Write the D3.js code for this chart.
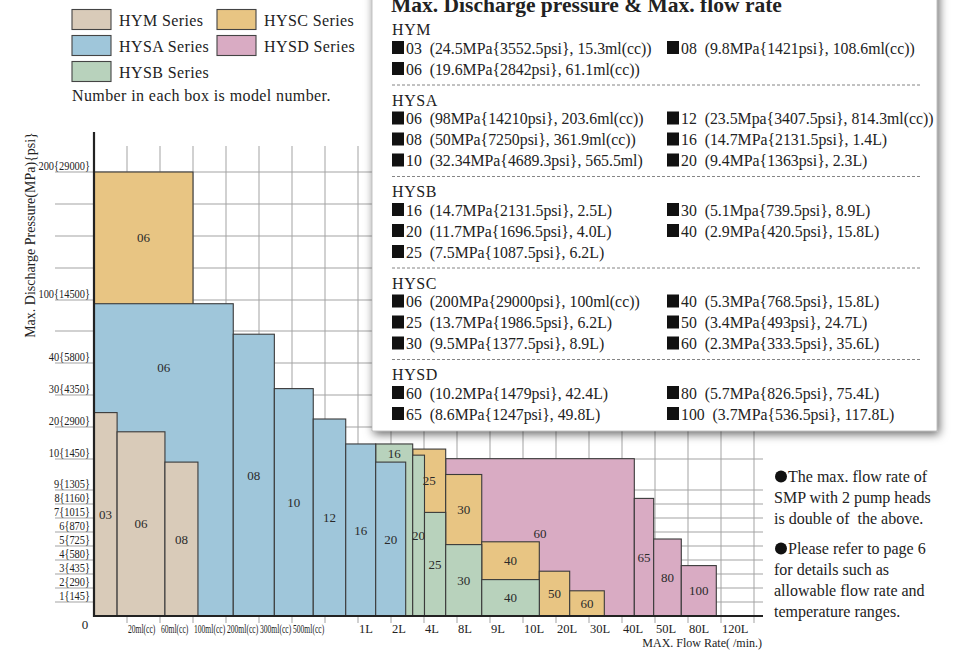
<!DOCTYPE html>
<html><head><meta charset="utf-8">
<script src="https://cdn.jsdelivr.net/npm/d3@7"></script>
<style>
html,body{margin:0;padding:0;background:#fff;}
svg{display:block;font-family:"Liberation Serif","Times New Roman",serif;}
</style></head><body>
<svg id="chart" width="964" height="652"></svg>
<script>
// ---------------- DATA ----------------
const flowTickValues = [0,20,60,100,200,300,500,750,1000,2000,4000,8000,9000,10000,20000,30000,40000,50000,80000,120000,160000];
const flowTickLabels = ["","20ml(cc)","60ml(cc)","100ml(cc)","200ml(cc)","300ml(cc)","500ml(cc)","","1L","2L","4L","8L","9L","10L","20L","30L","40L","50L","80L","120L",""];
const pressureTickValues = [1,2,3,4,5,6,7,8,9,10,20,30,40,50,100,125,150,175,200];
const pressureTickLabels = ["1{145}","2{290}","3{435}","4{580}","5{725}","6{870}","7{1015}","8{1160}","9{1305}","10{1450}","20{2900}","30{4350}","40{5800}","","100{14500}","","","","200{29000}"];

const seriesNames = ["HYM","HYSA","HYSB","HYSC","HYSD"];
const seriesColors = ["#d9cbb9","#9fc6da","#b8d2bc","#e8c583","#d9abc3"];

// flow in ml, pressure in MPa (as drawn)
const hymModels   = ["03","06","08"];
const hymFlowFrom = [0,14,66];
const hymFlowTo   = [14,66,115];
const hymPressure = [24.5,18.5,9.9];

const hysaModels   = ["06","08","10","12","16","20"];
const hysaFlowFrom = [0,222,393,661,907,1536];
const hysaFlowTo   = [222,393,661,907,1536,2890];
const hysaPressure = [94,49,32,22.5,14.7,9.9];

const hysbModels   = ["16","20","25","30","40"];
const hysbFlowFrom = [1536,3315,4060,6630,8750];
const hysbFlowTo   = [3315,4060,6630,8750,14940];
const hysbPressure = [14.7,11.2,7.4,5.1,2.6];

const hyscModels   = ["06","25","30","40","50","60"];
const hyscFlowFrom = [0,3315,6630,8750,14940,24150];
const hyscFlowTo   = [100,6630,8750,14940,24150,34640];
const hyscPressure = [200,13.1,9.5,5.3,3.2,1.8];

const hysdModels   = ["60","65","80","100"];
const hysdFlowFrom = [6630,43730,49600,73900];
const hysdFlowTo   = [43730,49600,73900,114300];
const hysdPressure = [10.1,8.4,5.5,3.6];

const specHYM  = ["03  (24.5MPa{3552.5psi}, 15.3ml(cc))","06  (19.6MPa{2842psi}, 61.1ml(cc))","08  (9.8MPa{1421psi}, 108.6ml(cc))"];
const specHYSA = ["06  (98MPa{14210psi}, 203.6ml(cc))","08  (50MPa{7250psi}, 361.9ml(cc))","10  (32.34MPa{4689.3psi}, 565.5ml)","12  (23.5Mpa{3407.5psi}, 814.3ml(cc))","16  (14.7MPa{2131.5psi}, 1.4L)","20  (9.4MPa{1363psi}, 2.3L)"];
const specHYSB = ["16  (14.7MPa{2131.5psi}, 2.5L)","20  (11.7MPa{1696.5psi}, 4.0L)","25  (7.5MPa{1087.5psi}, 6.2L)","30  (5.1Mpa{739.5psi}, 8.9L)","40  (2.9MPa{420.5psi}, 15.8L)"];
const specHYSC = ["06  (200MPa{29000psi}, 100ml(cc))","25  (13.7MPa{1986.5psi}, 6.2L)","30  (9.5MPa{1377.5psi}, 8.9L)","40  (5.3MPa{768.5psi}, 15.8L)","50  (3.4MPa{493psi}, 24.7L)","60  (2.3MPa{333.5psi}, 35.6L)"];
const specHYSD = ["60  (10.2MPa{1479psi}, 42.4L)","65  (8.6MPa{1247psi}, 49.8L)","80  (5.7MPa{826.5psi}, 75.4L)","100  (3.7MPa{536.5psi}, 117.8L)"];

const titleText = "Max. Discharge pressure & Max. flow rate";
const yAxisTitle = "Max. Discharge Pressure(MPa){psi}";
const xAxisTitle = "MAX. Flow Rate( /min.)";
const legendNote = "Number in each box is model number.";
const notes = [["The max. flow rate of","SMP with 2 pump heads","is double of  the above."],
               ["Please refer to page 6","for details such as","allowable flow rate and","temperature ranges."]];

// ---------------- LAYOUT ----------------
const svg = d3.select("#chart");
const X0 = 94, STEP = 33, AXIS_Y = 616;
const x = d3.scaleLinear().domain(flowTickValues).range(flowTickValues.map((d,i)=>X0+STEP*i));
const y = d3.scaleLinear().domain([0,9,10,50,100,200]).range([AXIS_Y,490,459,331,300,172]);

const defs = svg.append("defs");
const f = defs.append("filter").attr("id","shadow").attr("x","-10%").attr("y","-10%").attr("width","125%").attr("height","125%");
f.append("feDropShadow").attr("dx",2).attr("dy",3).attr("stdDeviation",5).attr("flood-color","#000").attr("flood-opacity",0.6);

const grid = svg.append("g");
grid.selectAll("line.v").data(flowTickValues.slice(1)).join("line")
  .attr("x1",d=>x(d)).attr("x2",d=>x(d)).attr("y1",146).attr("y2",AXIS_Y+7)
  .attr("stroke","#a3a3a3").attr("stroke-width",1);
grid.selectAll("line.h").data(pressureTickValues).join("line")
  .attr("x1",55).attr("x2",763).attr("y1",d=>y(d)).attr("y2",d=>y(d))
  .attr("stroke","#a3a3a3").attr("stroke-width",1);

// bars
const seriesData = [
  {name:"HYSD", models:hysdModels, from:hysdFlowFrom, to:hysdFlowTo, p:hysdPressure},
  {name:"HYSC", models:hyscModels, from:hyscFlowFrom, to:hyscFlowTo, p:hyscPressure},
  {name:"HYSB", models:hysbModels, from:hysbFlowFrom, to:hysbFlowTo, p:hysbPressure},
  {name:"HYSA", models:hysaModels, from:hysaFlowFrom, to:hysaFlowTo, p:hysaPressure},
  {name:"HYM",  models:hymModels,  from:hymFlowFrom,  to:hymFlowTo,  p:hymPressure}
];
const color = d3.scaleOrdinal().domain(seriesNames).range(seriesColors);
const bars = [];
seriesData.forEach(s => s.models.forEach((m,i) => bars.push({series:s.name, model:m, f0:s.from[i], f1:s.to[i], p:s.p[i]})));
bars.forEach((b,i)=>{ b.X0=x(b.f0); b.X1=x(b.f1); b.Y=y(b.p); b.z=i; });

const barG = svg.append("g");
barG.selectAll("rect").data(bars).join("rect")
  .attr("x",d=>d.X0).attr("y",d=>d.Y).attr("width",d=>d.X1-d.X0).attr("height",d=>y(0)-d.Y)
  .attr("fill",d=>color(d.series)).attr("stroke","#3a3a3a").attr("stroke-width",1.1);

const labelOnWholeBar = new Set(["HYSD-60"]);
bars.forEach(b=>{
  const cx=(b.X0+b.X1)/2;
  let bottom=y(0);
  const whole = labelOnWholeBar.has(b.series+"-"+b.model);
  if(!whole){
    bars.forEach(o=>{ if(o.z>b.z && o.X0<=cx && o.X1>=cx && o.Y>b.Y && o.Y<bottom) bottom=o.Y; });
  }
  b.lx=cx; b.ly=(b.Y+bottom)/2 - (whole?4:0);
});
barG.selectAll("text").data(bars).join("text")
  .attr("x",d=>d.lx).attr("y",d=>d.ly).attr("dy","0.35em").attr("text-anchor","middle")
  .attr("font-size",13).attr("fill","#2a2a2a").text(d=>d.model);

// axes lines
svg.append("line").attr("x1",X0).attr("x2",X0).attr("y1",132).attr("y2",AXIS_Y+1).attr("stroke","#222").attr("stroke-width",2.2);
svg.append("line").attr("x1",X0-1).attr("x2",763).attr("y1",AXIS_Y).attr("y2",AXIS_Y).attr("stroke","#222").attr("stroke-width",2.2);

// y tick labels
svg.append("g").selectAll("text").data(pressureTickValues.map((v,i)=>({v,l:pressureTickLabels[i]})).filter(d=>d.l)).join("text")
  .attr("transform",d=>`translate(90,${y(d.v)-2}) scale(0.8,1)`).attr("text-anchor","end")
  .attr("font-size",13).attr("fill","#222").text(d=>d.l);
svg.append("text").attr("x",85).attr("y",629).attr("text-anchor","middle").attr("font-size",13).attr("fill","#222").text("0");

// x tick labels
svg.append("g").selectAll("text").data(flowTickValues.map((v,i)=>({v,l:flowTickLabels[i]})).filter(d=>d.l)).join("text")
  .attr("transform",d=>d.l.includes("ml") ? `translate(${x(d.v)+1},633) scale(0.66,1)` : `translate(${x(d.v)+1},633)`)
  .attr("font-size",d=>d.l.includes("ml")?11.5:12.5).attr("fill","#222").text(d=>d.l);

// axis titles
svg.append("text").attr("transform","translate(35,235) rotate(-90)").attr("text-anchor","middle")
  .attr("font-size",14).attr("fill","#222").text(yAxisTitle);
svg.append("text").attr("x",762).attr("y",647).attr("text-anchor","end").attr("font-size",12).attr("fill","#222").text(xAxisTitle);

// legend (column-major, 3 rows)
const leg = svg.append("g");
seriesNames.forEach((n,i)=>{
  const col=Math.floor(i/3), row=i%3;
  const lx=72+col*145, ly=9.5+row*26;
  leg.append("rect").attr("x",lx).attr("y",ly).attr("width",39).attr("height",20)
    .attr("fill",color(n)).attr("stroke","#444").attr("stroke-width",1.1);
  leg.append("text").attr("x",lx+47).attr("y",ly+16).attr("font-size",16).attr("letter-spacing",0.4).attr("fill","#222").text(n+" Series");
});
leg.append("text").attr("x",72).attr("y",101).attr("font-size",16).attr("letter-spacing",0.4).attr("fill","#222").text(legendNote);

// right notes
const nt = svg.append("g");
let ny=482;
notes.forEach((para,pi)=>{
  para.forEach((line,li)=>{
    if(li===0) nt.append("circle").attr("cx",781).attr("cy",ny-5.5).attr("r",6).attr("fill","#111");
    nt.append("text").attr("x",li===0?788:774).attr("y",ny).attr("font-size",16).attr("fill","#222").attr("xml:space","preserve").text(line);
    ny+=21;
  });
  ny+=9;
});

// spec box
const box = svg.append("g");
box.append("rect").attr("x",372).attr("y",-20).attr("width",565).attr("height",451)
  .attr("fill","#fff").attr("stroke","#999").attr("stroke-width",0.6).attr("filter","url(#shadow)");
box.append("text").attr("x",391).attr("y",12).attr("font-size",21.5).attr("font-weight","bold").attr("fill","#222").text(titleText);
const sections = [["HYM",specHYM],["HYSA",specHYSA],["HYSB",specHYSB],["HYSC",specHYSC],["HYSD",specHYSD]];
let hy = 35;
sections.forEach(([name,specs],si)=>{
  box.append("text").attr("x",392).attr("y",hy).attr("font-size",16).attr("letter-spacing",0.6).attr("fill","#222").text(name);
  const rows=Math.ceil(specs.length/2);
  specs.forEach((s,i)=>{
    const col=Math.floor(i/rows), row=i%rows;
    const bx=392+col*275, by=hy+18.5+row*21;
    box.append("rect").attr("x",bx).attr("y",by-12.5).attr("width",12).attr("height",13).attr("fill","#111");
    box.append("text").attr("x",bx+14).attr("y",by).attr("font-size",15.8).attr("xml:space","preserve").attr("fill","#222").text(s);
  });
  const lastRow = hy+18.5+(rows-1)*21;
  if(si<sections.length-1){
    const dy=lastRow+10.5;
    box.append("line").attr("x1",392).attr("x2",922).attr("y1",dy).attr("y2",dy)
      .attr("stroke","#666").attr("stroke-width",0.8).attr("stroke-dasharray","3,2");
    hy=dy+20.5;
  }
});
</script>
</body></html>
